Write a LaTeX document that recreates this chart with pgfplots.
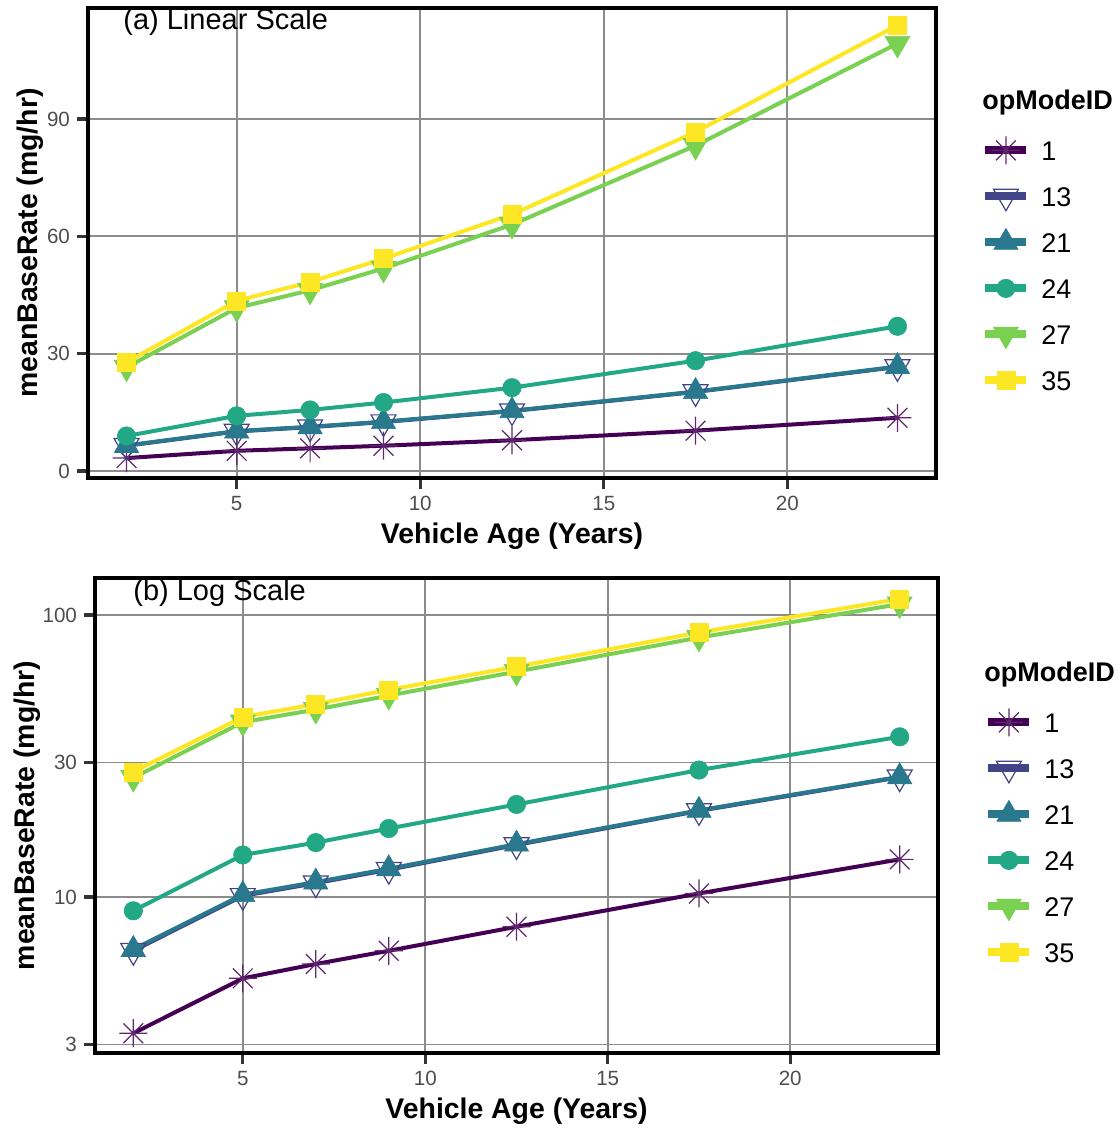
\documentclass[border=0pt]{standalone}
\usepackage{pgfplots}
\usepackage{pgfplotstable}
\pgfplotsset{compat=1.18}
\usepackage{fontspec}
\setmainfont{Liberation Sans}
\definecolor{v1}{HTML}{440154}
\definecolor{v13}{HTML}{414487}
\definecolor{v21}{HTML}{2A788E}
\definecolor{v24}{HTML}{22A884}
\definecolor{v27}{HTML}{7AD151}
\definecolor{v35}{HTML}{FDE725}
\definecolor{gridc}{RGB}{140,140,140}
\definecolor{tickc}{RGB}{77,77,77}
\definecolor{tickm}{RGB}{51,51,51}

\pgfdeclareplotmark{ast8}{%
 \pgfpathmoveto{\pgfqpoint{-\pgfplotmarksize}{0pt}}\pgfpathlineto{\pgfqpoint{\pgfplotmarksize}{0pt}}%
 \pgfpathmoveto{\pgfqpoint{0pt}{-\pgfplotmarksize}}\pgfpathlineto{\pgfqpoint{0pt}{\pgfplotmarksize}}%
 \pgfpathmoveto{\pgfqpoint{-0.707\pgfplotmarksize}{-0.707\pgfplotmarksize}}\pgfpathlineto{\pgfqpoint{0.707\pgfplotmarksize}{0.707\pgfplotmarksize}}%
 \pgfpathmoveto{\pgfqpoint{-0.707\pgfplotmarksize}{0.707\pgfplotmarksize}}\pgfpathlineto{\pgfqpoint{0.707\pgfplotmarksize}{-0.707\pgfplotmarksize}}%
 \pgfusepathqstroke}

\pgfplotstableread{
x s1 s13 s21 s24 s27 s35
2 3.29 6.45 6.52 8.94 26.5 27.8
5 5.15 10.1 10.2 14.1 41.7 43.5
7 5.79 11.2 11.3 15.6 46.2 48.3
9 6.45 12.5 12.6 17.5 51.8 54.3
12.5 7.85 15.3 15.4 21.3 63.0 65.6
17.5 10.3 20.2 20.3 28.2 83.2 86.7
23 13.6 26.6 26.7 37.0 109.3 114.0
}\data

\pgfplotsset{
 panel/.style={
  scale only axis,
  axis line style={line width=2pt, black},
  grid=major, grid style={gridc, line width=0.9pt},
  tick pos=left,
  tick align=outside, major tick length=5.5pt,
  tick style={tickm, line width=1.6pt},
  xmin=0.95, xmax=24.05, xtick={5,10,15,20},
  ticklabel style={font=\fontsize{10.3}{12}\selectfont, text=tickc},
  /pgf/number format/assume math mode=true,
  label style={font=\bfseries\fontsize{14.2}{17}\selectfont},
  xlabel={Vehicle Age (Years)}, ylabel={meanBaseRate (mg/hr)},
  xlabel style={at={(axis description cs:0.5,0)}, anchor=base, yshift=-33pt},
  legend cell align=left,
  legend style={draw=none, fill=none, anchor=north west, inner sep=0pt,
    column sep=7.5pt, row sep=13.3pt, font=\fontsize{13.5}{16}\selectfont,
    nodes={inner sep=0pt, text height=9.7pt, text depth=0pt}},
  legend image code/.code={\useasboundingbox (0pt,-1pt) rectangle (18.5pt,1pt);
    \draw[mark repeat=2, mark phase=2] plot coordinates {(0pt,0pt)(9.25pt,0pt)(18.5pt,0pt)};},
 },
 l1/.style={v1, line width=2pt},
 l13/.style={v13, line width=2pt},
 l21/.style={v21, line width=2pt},
 l24/.style={v24, line width=2pt},
 l27/.style={v27, line width=2pt},
 l35/.style={v35, line width=2pt},
 m1/.style={v1, mark=ast8, mark size=7pt, mark options={line width=0.6pt, v1!85!white}},
 m13/.style={v13, mark=triangle, mark size=7.2pt, mark options={rotate=180, line width=0.6pt, fill=none}},
 m21/.style={v21, mark=triangle*, mark size=7pt, mark options={line width=0.3pt, fill=v21}},
 m24/.style={v24, mark=*, mark size=4.6pt, mark options={line width=0.3pt, fill=v24}},
 m27/.style={v27, mark=triangle*, mark size=7.2pt, mark options={rotate=180, line width=0.3pt, fill=v27}},
 m35/.style={v35, mark=square*, mark size=4.5pt, mark options={line width=0.3pt, fill=v35}},
}

\newcommand\drawseries{%
  \addlegendimage{l1, m1}\addlegendentry{1}
  \addlegendimage{l13, m13}\addlegendentry{13}
  \addlegendimage{l21, m21}\addlegendentry{21}
  \addlegendimage{l24, m24}\addlegendentry{24}
  \addlegendimage{l27, m27}\addlegendentry{27}
  \addlegendimage{l35, m35}\addlegendentry{35}
  \addplot[l1, forget plot] table[x=x, y=s1] {\data};
  \addplot[l13, forget plot] table[x=x, y=s13] {\data};
  \addplot[l21, forget plot] table[x=x, y=s21] {\data};
  \addplot[l24, forget plot] table[x=x, y=s24] {\data};
  \addplot[l27, forget plot] table[x=x, y=s27] {\data};
  \addplot[l35, forget plot] table[x=x, y=s35] {\data};
  \addplot[m1, only marks, forget plot] table[x=x, y=s1] {\data};
  \addplot[m13, only marks, forget plot] table[x=x, y=s13] {\data};
  \addplot[m21, only marks, forget plot] table[x=x, y=s21] {\data};
  \addplot[m24, only marks, forget plot] table[x=x, y=s24] {\data};
  \addplot[m27, only marks, forget plot] table[x=x, y=s27] {\data};
  \addplot[m35, only marks, forget plot] table[x=x, y=s35] {\data};
}

\begin{document}
\begin{tikzpicture}
\useasboundingbox (0,0) rectangle (559.5pt,564pt);
\begin{axis}[panel, at={(44pt,325pt)}, anchor=south west,
  width=424pt, height=235pt,
  ymin=-1.8, ymax=118.4, ytick={0,30,60,90},
  ylabel style={at={(axis description cs:-0.0601,0.5)}, anchor=base},
  legend style={at={(axis description cs:1.0578,0.7185)}}]
\drawseries
\end{axis}
\begin{axis}[panel, at={(47.5pt,37.5pt)}, anchor=south west,
  width=421.5pt, height=237.5pt,
  ymode=log, ymin=2.80, ymax=135.3, ytick={3,10,30,100}, yticklabels={3,10,30,100},
  minor ytick={},
  ylabel style={at={(axis description cs:-0.0712,0.5)}, anchor=base},
  legend style={at={(axis description cs:1.0593,0.7173)}}]
\drawseries
\end{axis}
\node[anchor=base west, inner sep=0pt, font=\fontsize{14.5}{17}\selectfont] at (61.5pt,549.25pt) {(a) Linear Scale};
\node[anchor=base west, inner sep=0pt, font=\fontsize{14.5}{17}\selectfont] at (66.5pt,263.5pt) {(b) Log Scale};
\node[anchor=base west, inner sep=0pt, font=\bfseries\fontsize{13.5}{16}\selectfont] at (491pt,509.15pt) {opModeID};
\node[anchor=base west, inner sep=0pt, font=\bfseries\fontsize{13.5}{16}\selectfont] at (492pt,223.15pt) {opModeID};
\end{tikzpicture}
\end{document}
